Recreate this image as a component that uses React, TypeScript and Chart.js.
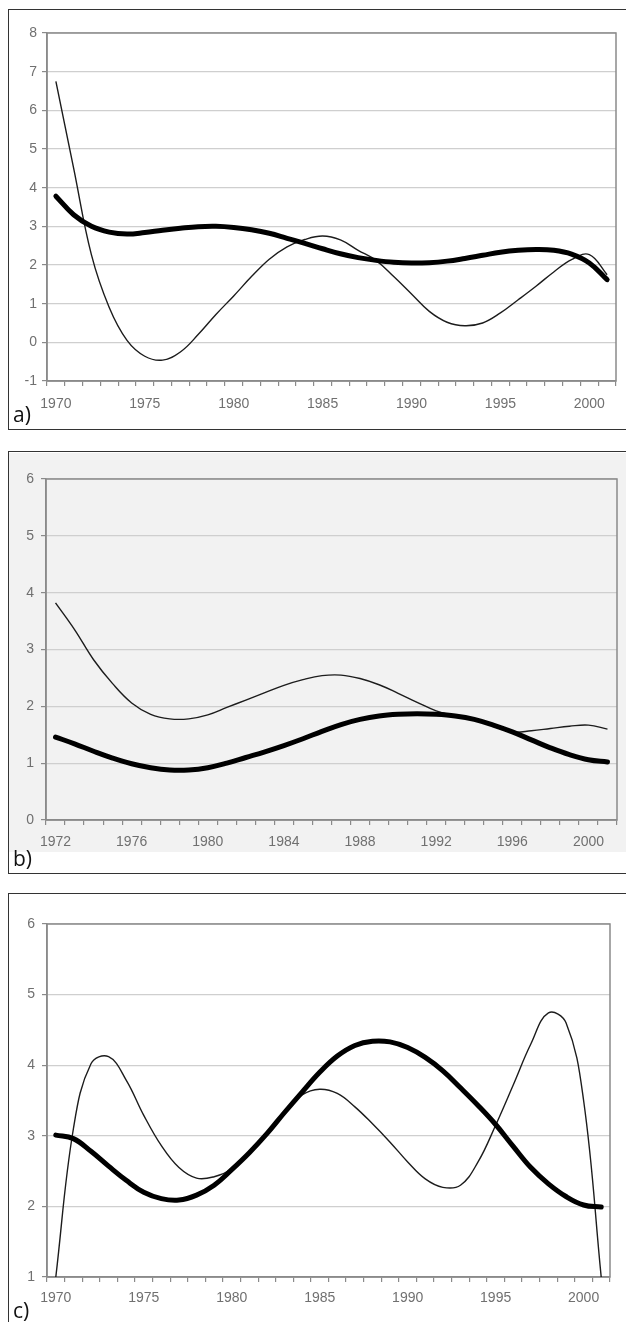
import React, { useEffect, useRef } from "react";
import { Chart, registerables } from "chart.js";

Chart.register(...registerables);

// ---------- DATA ----------
const yearsA = [1970, 1971, 1972, 1973, 1974, 1975, 1976, 1977, 1978, 1979, 1980, 1981, 1982, 1983, 1984, 1985, 1986, 1987, 1988, 1989, 1990, 1991, 1992, 1993, 1994, 1995, 1996, 1997, 1998, 1999, 2000, 2001];
const thinA = [6.75, 4.5, 2.26, 0.9, 0.05, -0.36, -0.46, -0.25, 0.2, 0.72, 1.2, 1.7, 2.15, 2.47, 2.66, 2.75, 2.65, 2.38, 2.12, 1.7, 1.25, 0.8, 0.52, 0.43, 0.5, 0.76, 1.1, 1.45, 1.82, 2.14, 2.27, 1.75];
const thickA = [3.78, 3.3, 3.0, 2.85, 2.8, 2.84, 2.9, 2.95, 2.99, 3.0, 2.97, 2.91, 2.82, 2.69, 2.56, 2.42, 2.29, 2.19, 2.12, 2.07, 2.05, 2.06, 2.1, 2.17, 2.25, 2.33, 2.38, 2.4, 2.38, 2.28, 2.05, 1.62];

const yearsB = [1972, 1973, 1974, 1975, 1976, 1977, 1978, 1979, 1980, 1981, 1982, 1983, 1984, 1985, 1986, 1987, 1988, 1989, 1990, 1991, 1992, 1993, 1994, 1995, 1996, 1997, 1998, 1999, 2000, 2001];
const thinB = [3.82, 3.35, 2.82, 2.4, 2.06, 1.86, 1.78, 1.78, 1.85, 1.98, 2.11, 2.24, 2.37, 2.47, 2.54, 2.55, 2.49, 2.38, 2.23, 2.07, 1.92, 1.83, 1.76, 1.66, 1.55, 1.57, 1.61, 1.65, 1.67, 1.6];
const thickB = [1.46, 1.34, 1.21, 1.09, 0.99, 0.92, 0.88, 0.88, 0.92, 1.0, 1.1, 1.2, 1.31, 1.43, 1.56, 1.68, 1.77, 1.83, 1.86, 1.87, 1.86, 1.83, 1.77, 1.67, 1.55, 1.41, 1.27, 1.15, 1.06, 1.02];

const yearsC = [1970, 1971, 1972, 1973, 1974, 1975, 1976, 1977, 1978, 1979, 1980, 1981, 1982, 1983, 1984, 1985, 1986, 1987, 1988, 1989, 1990, 1991, 1992, 1993, 1994, 1995, 1996, 1997, 1998, 1999, 2000, 2001];
const thinC = [1.0, 3.1, 4.02, 4.12, 3.79, 3.29, 2.86, 2.55, 2.4, 2.42, 2.53, 2.76, 3.03, 3.33, 3.58, 3.66, 3.6, 3.41, 3.17, 2.91, 2.63, 2.39, 2.27, 2.3, 2.63, 3.15, 3.72, 4.3, 4.74, 4.6, 3.5, 1.0];
const thickC = [3.01, 2.96, 2.78, 2.57, 2.37, 2.2, 2.11, 2.09, 2.16, 2.3, 2.52, 2.76, 3.03, 3.33, 3.62, 3.9, 4.13, 4.28, 4.34, 4.33, 4.25, 4.11, 3.92, 3.68, 3.43, 3.16, 2.85, 2.55, 2.32, 2.14, 2.02, 1.99];

const labelStepA = 5;
const labelStepB = 4;
const labelStepC = 5;

const FONT = "'Liberation Sans', Arial, sans-serif";

type PanelProps = {
  top: number;
  height: number;
  plotLeft: number;
  plotRight: number;
  plotTop: number;
  plotBottom: number;
  labels: number[];
  thin: number[];
  thick: number[];
  yMin: number;
  yMax: number;
  step: number;
  yPad: number;
  xPad: number;
};

function Panel(p: PanelProps) {
  const ref = useRef<HTMLCanvasElement | null>(null);
  useEffect(() => {
    if (!ref.current) return;
    const boxPlugin = {
      id: "plotBox",
      beforeDatasetsDraw(chart: any) {
        const { ctx, chartArea: a } = chart;
        ctx.save();
        ctx.strokeStyle = "#8a8a8a";
        ctx.lineWidth = 1.5;
        ctx.strokeRect(a.left, a.top, a.right - a.left, a.bottom - a.top);
        ctx.restore();
      },
    };
    const chart = new Chart(ref.current, {
      type: "line",
      data: {
        labels: p.labels.map(String),
        datasets: [
          {
            data: p.thick,
            borderColor: "#000000",
            borderWidth: 5,
            borderCapStyle: "round",
            pointRadius: 0,
            tension: 0.4,
            fill: false,
          },
          {
            data: p.thin,
            borderColor: "#1c1c1c",
            borderWidth: 1.4,
            pointRadius: 0,
            tension: 0.4,
            fill: false,
          },
        ],
      },
      options: {
        animation: false,
        responsive: false,
        devicePixelRatio: 1,
        layout: {
          padding: { left: 0, right: 626 - p.plotRight, top: p.plotTop - p.top, bottom: 0 },
        },
        plugins: { legend: { display: false }, tooltip: { enabled: false }, title: { display: false } },
        scales: {
          x: {
            type: "category",
            offset: true,
            grid: { offset: true, drawOnChartArea: false, drawTicks: true, tickLength: 5, tickColor: "#8a8a8a", lineWidth: 1.2 },
            border: { display: true, color: "#8a8a8a", width: 1.5 },
            ticks: {
              autoSkip: false,
              maxRotation: 0,
              minRotation: 0,
              padding: p.xPad,
              color: "#707070",
              font: { family: FONT, size: 14 },
              callback: (_v: any, i: number) => (p.labels[i] % p.step === 0 ? String(p.labels[i]) : ""),
            },
            afterFit: (s: any) => {
              s.height = p.top + p.height - p.plotBottom;
            },
          },
          y: {
            min: p.yMin,
            max: p.yMax,
            grid: { color: "#cfcfcf", lineWidth: 1.2, tickColor: "#8a8a8a", tickLength: 5 },
            border: { display: true, color: "#8a8a8a", width: 1.5 },
            ticks: {
              stepSize: 1,
              padding: p.yPad,
              color: "#707070",
              font: { family: FONT, size: 14 },
            },
            afterFit: (s: any) => {
              s.width = p.plotLeft;
            },
          },
        },
      },
      plugins: [boxPlugin],
    } as any);
    return () => chart.destroy();
  }, []);
  return (
    <canvas
      ref={ref}
      width={626}
      height={p.height}
      style={{ position: "absolute", left: 0, top: p.top, width: 626, height: p.height }}
    />
  );
}

const frameStyle = (top: number, height: number): React.CSSProperties => ({
  position: "absolute",
  left: 8,
  top,
  width: 640,
  height,
  boxSizing: "border-box",
  border: "1px solid #333",
});

const tagStyle = (top: number): React.CSSProperties => ({
  position: "absolute",
  left: 13,
  top,
  fontFamily: "'Open Sans', sans-serif",
  fontSize: 21,
  lineHeight: "24px",
  color: "#111",
});

export default function App() {
  return (
    <div style={{ position: "absolute", left: 0, top: 0, width: 626, height: 1322, overflow: "hidden", background: "#fff" }}>
      {/* panel a */}
      <div style={frameStyle(9, 421)} />
      <Panel top={12} height={415} plotLeft={47} plotRight={616} plotTop={33} plotBottom={381} labels={yearsA} thin={thinA} thick={thickA} yMin={-1} yMax={8} step={labelStepA} yPad={5} xPad={10} />
      <div style={tagStyle(402)}>a)</div>

      {/* panel b */}
      <div style={frameStyle(451, 423)} />
      <div style={{ position: "absolute", left: 9, top: 453, width: 620, height: 399, background: "#f2f2f2" }} />
      <Panel top={455} height={397} plotLeft={46} plotRight={617} plotTop={479} plotBottom={820} labels={yearsB} thin={thinB} thick={thickB} yMin={0} yMax={6} step={labelStepB} yPad={7} xPad={9} />
      <div style={tagStyle(846)}>b)</div>

      {/* panel c */}
      <div style={frameStyle(893, 500)} />
      <Panel top={896} height={415} plotLeft={47} plotRight={610} plotTop={924} plotBottom={1277} labels={yearsC} thin={thinC} thick={thickC} yMin={1} yMax={6} step={labelStepC} yPad={7} xPad={8} />
      <div style={tagStyle(1298)}>c)</div>
    </div>
  );
}
